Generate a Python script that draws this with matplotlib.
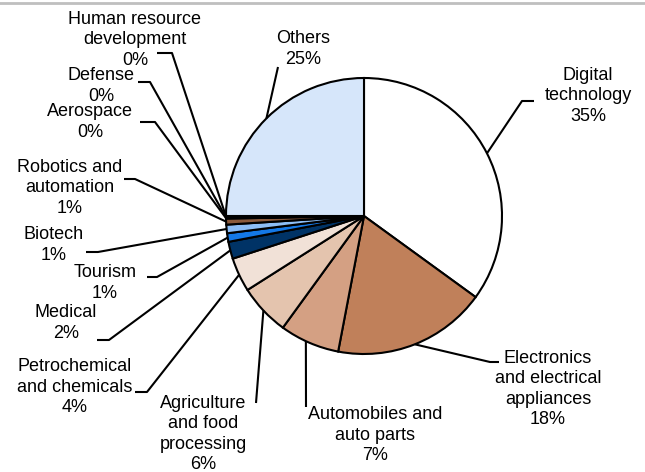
import numpy as np
import matplotlib.pyplot as plt
from matplotlib.lines import Line2D

W, H = 645, 472

categories = ['Digital\ntechnology', 'Electronics\nand electrical\nappliances',
              'Automobiles and\nauto parts', 'Agriculture\nand food\nprocessing',
              'Petrochemical\nand chemicals', 'Medical', 'Tourism', 'Biotech',
              'Robotics and\nautomation', 'Aerospace', 'Defense',
              'Human resource\ndevelopment', 'Others']
shares = [35, 18, 7, 6, 4, 2, 1, 1, 0.7, 0.1, 0.1, 0.1, 25]
pct_labels = ['35%', '18%', '7%', '6%', '4%', '2%', '1%', '1%', '1%',
              '0%', '0%', '0%', '25%']
colors = ['#FFFFFF', '#C0805A', '#D4A083', '#E4C4AE', '#F1E1D7', '#003366',
          '#1478E6', '#8DBEF6', '#8B5A3C', '#003366', '#1478E6', '#8DBEF6',
          '#D6E6FA']

# label placement in pixels from top-left: text centre, leader points, anchor
layout = [
    dict(text=(588, 96), path=[(522, 101), (534, 101)]),
    dict(text=(548, 389), path=[(490, 362), (499, 362)]),
    dict(text=(375, 435), path=[(306, 407)], t=0.44),
    dict(text=(203, 434), path=[(256, 403)]),
    dict(text=(75, 387), path=[(147, 392), (135, 392)]),
    dict(text=(66, 323), path=[(109, 340), (97, 340)]),
    dict(text=(105, 283), path=[(157, 277), (147, 277)]),
    dict(text=(54, 245), path=[(98, 252), (86, 252)]),
    dict(text=(70, 188), path=[(135, 179), (124, 179)]),
    dict(text=(90, 122), path=[(155, 122), (140, 122)]),
    dict(text=(101, 86), path=[(150, 82), (138, 82)]),
    dict(text=(135, 40), path=[(172, 53), (157, 53)]),
    dict(text=(303, 49), path=[(278, 67)]),
]


def px(x, y):
    return x, H - y


fig = plt.figure(figsize=(W / 100, H / 100), dpi=100)
ax = fig.add_axes([0, 0, 1, 1])

cx, cy = px(364, 216)
radius = 138
wedges, _ = ax.pie(shares, colors=colors, startangle=90, counterclock=False,
                   center=(cx, cy), radius=radius,
                   wedgeprops=dict(edgecolor='black', linewidth=1.5))
ax.set_xlim(0, W)
ax.set_ylim(0, H)
ax.axis('off')

for w, cat, pct, lay in zip(wedges, categories, pct_labels, layout):
    t = lay.get('t', 0.5)
    ang = np.radians(w.theta1 + t * (w.theta2 - w.theta1))
    pts = [(cx + radius * np.cos(ang), cy + radius * np.sin(ang))]
    pts += [px(*p) for p in lay['path']]
    xs, ys = zip(*pts)
    ax.plot(xs, ys, color='black', lw=1.5, solid_capstyle='butt')
    tx, ty = px(*lay['text'])
    ax.text(tx, ty, cat + '\n' + pct, ha='center', va='center',
            multialignment='center', fontsize=13, family='Liberation Sans',
            linespacing=1.28)

fig.add_artist(Line2D([0, 1], [1 - 3 / H, 1 - 3 / H], transform=fig.transFigure,
                      color='#BFBFBF', lw=2))

fig.savefig('out.png', dpi=100)
